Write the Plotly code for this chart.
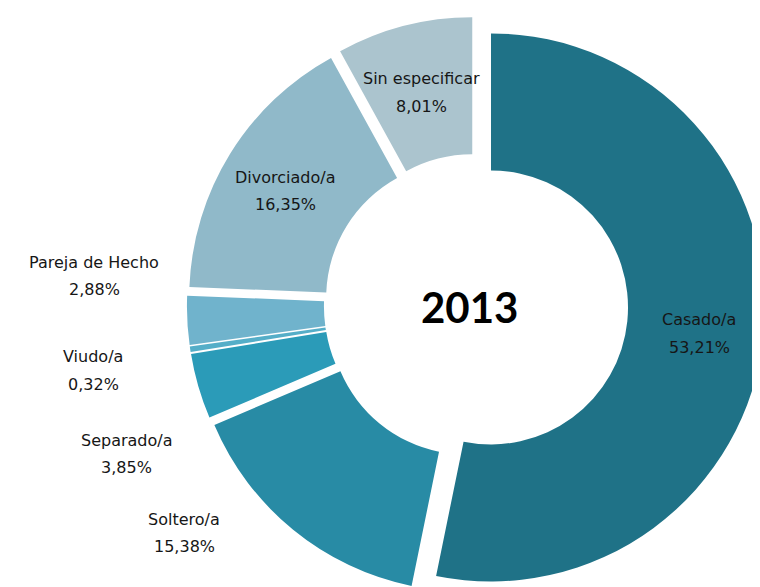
import plotly.graph_objects as go

categories = ["Casado/a", "Soltero/a", "Separado/a", "Viudo/a",
              "Pareja de Hecho", "Divorciado/a", "Sin especificar"]
percentages = [53.21, 15.38, 3.85, 0.32, 2.88, 16.35, 8.01]
colors = ["#1f7287", "#288ba5", "#2b9bb8", "#55aec8",
          "#70b3cc", "#90b9c9", "#abc4ce"]
year_label = "2013"

# label placement (pixel centre x, name-line y, value-line y)
label_pos = {
    "Casado/a": (691, 311, 339),
    "Soltero/a": (176, 511, 538),
    "Separado/a": (118, 432, 459),
    "Viudo/a": (85, 348, 376),
    "Pareja de Hecho": (86, 254, 282),
    "Divorciado/a": (277, 169, 197),
    "Sin especificar": (413, 71, 98),
}

W, H = 760, 587
FONT = "DejaVu Sans, Liberation Sans, Arial, sans-serif"

fig = go.Figure()
fig.add_trace(go.Pie(
    labels=categories,
    values=percentages,
    sort=False,
    direction="clockwise",
    rotation=0,
    hole=0.5,
    pull=[0.055] * len(categories),
    marker=dict(colors=colors, line=dict(width=0)),
    textinfo="none",
    domain=dict(x=[0.2316, 1.0], y=[0.0, 0.985]),
    showlegend=False,
    hoverinfo="label+percent",
))

annotations = []
for cat, val in zip(categories, percentages):
    px, py1, py2 = label_pos[cat]
    for txt, py in ((cat, py1), (f"{val:.2f}%".replace(".", ","), py2)):
        annotations.append(dict(
            x=px / W, y=1 - py / H, xref="paper", yref="paper",
            xanchor="center", yanchor="middle",
            text=txt, showarrow=False, align="center",
            font=dict(family=FONT, size=16, color="#161616"),
        ))
annotations.append(dict(
    x=0.607, y=0.4906, xref="paper", yref="paper", text=year_label,
    xanchor="center", yanchor="middle",
    showarrow=False,
    font=dict(family="Lato, sans-serif", size=42, color="#000000", weight="bold"),
))

fig.update_layout(
    width=W, height=H,
    margin=dict(l=0, r=0, t=0, b=0),
    paper_bgcolor="white", plot_bgcolor="white",
    separators=",.",
    annotations=annotations,
)

fig.write_html("out.html")
